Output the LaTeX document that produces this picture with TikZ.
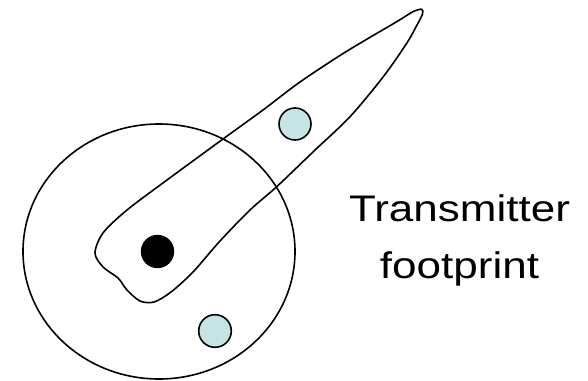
\documentclass[tikz,border=0pt]{standalone}
\usepackage{fontspec}
\setmainfont{Liberation Sans}
\usepackage{tikz}
\usetikzlibrary{positioning}
\definecolor{rxfill}{RGB}{197,228,230}

\begin{document}
\begin{tikzpicture}[x=1pt, y=-1pt, line width=1.6pt,
    receiver/.style={draw=black, fill=rxfill},
    caption/.style={anchor=base, font=\fontsize{37}{44}\selectfont, xscale=1.19}]
  \useasboundingbox (0,0) rectangle (588,380);
  % transmitter and its circular coverage
  \coordinate (tx) at (157.5,251.5);
  \draw (159,251.5) ellipse [x radius=136, y radius=127.5];
  % elongated footprint, tip at upper right
  \draw plot[smooth cycle, tension=0.5] coordinates {
    (421.7,9.3) (413,11.7) (396.7,21.7) (346,51.7) (300,82)
    (263,110) (223,139) (167,180) (127,210) (103,233) (95,253)
    (103,267) (118,278) (127,290) (140,301) (154,302) (171,292)
    (193,272) (220,241) (250,210) (276.7,186.7) (314,151) (350,116.7)
    (383.3,76.7) (406.7,43.3) (417,25) (422.5,14)};
  \fill (tx) circle [radius=16.7];
  % receivers
  \draw[receiver] (295,124) circle [radius=16];
  \draw[receiver] (215,331) circle [radius=16.3];
  \node[caption] (line1) at (459.5,221.7) {Transmitter};
  \node[caption] (line2) at (459.5,278) {footprint};
\end{tikzpicture}
\end{document}
